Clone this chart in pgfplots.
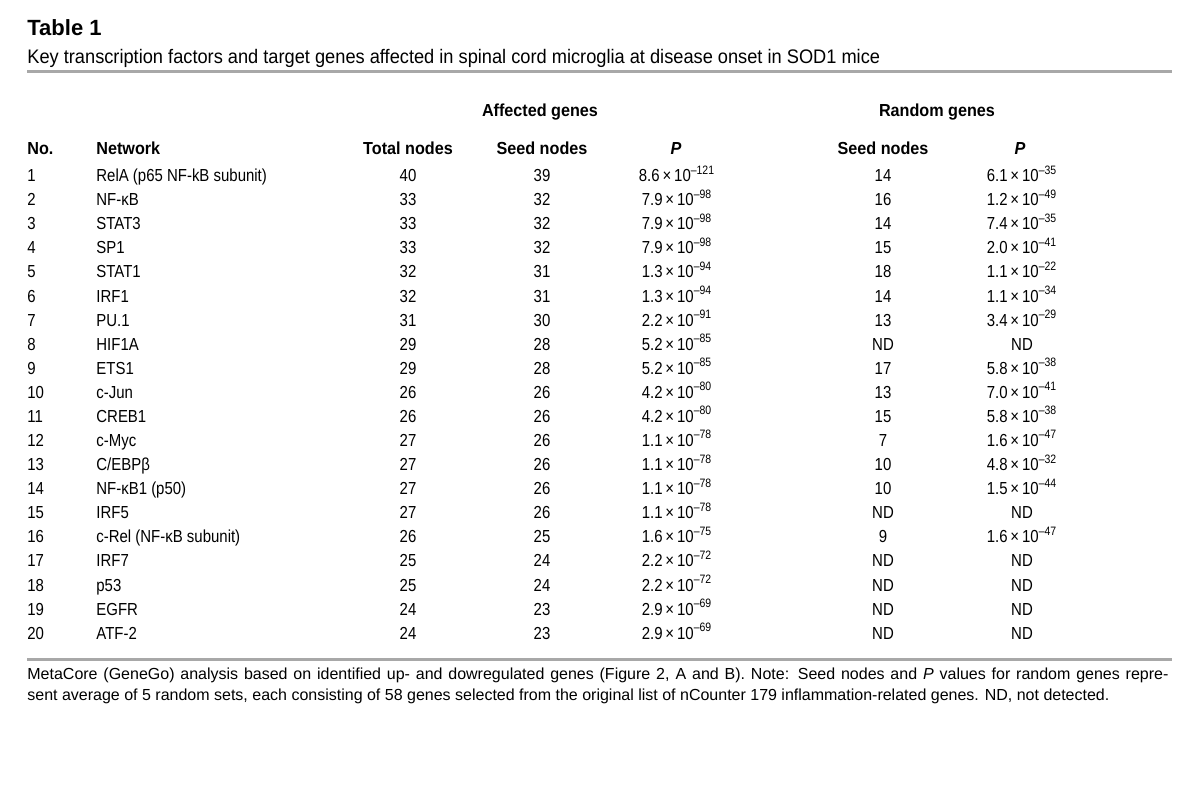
\documentclass[border=0pt]{standalone}
\usepackage{pgfplots}
\usepackage{pgfplotstable}
\pgfplotsset{compat=1.18}
\usepackage{fontspec}
\setmainfont{Liberation Sans}[FakeStretch=0.86]
\newfontfamily\hdrfont{Liberation Sans}[FakeStretch=0.93]
\newfontfamily\capfont{Liberation Sans}[FakeStretch=0.93]
\newfontfamily\plainfont{Liberation Sans}
\DeclareRobustCommand\pe[2]{#1\,×\,10\textsuperscript{–#2}}
\definecolor{rulegray}{HTML}{A8A8A8}
\tikzset{hdr/.style={inner sep=0pt, font=\fontsize{8.7}{10}\hdrfont\bfseries}}
\pgfplotstableread[col sep=semicolon]{
y;no;net;tot;seed;p;rs;rp
181.7;1;RelA (p65 NF-kB subunit);40;39;\pe{8.6}{121};14;\pe{6.1}{35}
205.8;2;NF-κB;33;32;\pe{7.9}{98};16;\pe{1.2}{49}
229.9;3;STAT3;33;32;\pe{7.9}{98};14;\pe{7.4}{35}
253.9;4;SP1;33;32;\pe{7.9}{98};15;\pe{2.0}{41}
278.0;5;STAT1;32;31;\pe{1.3}{94};18;\pe{1.1}{22}
302.1;6;IRF1;32;31;\pe{1.3}{94};14;\pe{1.1}{34}
326.2;7;PU.1;31;30;\pe{2.2}{91};13;\pe{3.4}{29}
350.3;8;HIF1A;29;28;\pe{5.2}{85};ND;ND
374.3;9;ETS1;29;28;\pe{5.2}{85};17;\pe{5.8}{38}
398.4;10;c-Jun;26;26;\pe{4.2}{80};13;\pe{7.0}{41}
422.5;11;CREB1;26;26;\pe{4.2}{80};15;\pe{5.8}{38}
446.6;12;c-Myc;27;26;\pe{1.1}{78};7;\pe{1.6}{47}
470.7;13;C/EBPβ;27;26;\pe{1.1}{78};10;\pe{4.8}{32}
494.7;14;NF-κB1 (p50);27;26;\pe{1.1}{78};10;\pe{1.5}{44}
518.8;15;IRF5;27;26;\pe{1.1}{78};ND;ND
542.9;16;c-Rel (NF-κB subunit);26;25;\pe{1.6}{75};9;\pe{1.6}{47}
567.0;17;IRF7;25;24;\pe{2.2}{72};ND;ND
591.1;18;p53;25;24;\pe{2.2}{72};ND;ND
615.1;19;EGFR;24;23;\pe{2.9}{69};ND;ND
639.2;20;ATF-2;24;23;\pe{2.9}{69};ND;ND
}\tbl
\begin{document}
\begin{tikzpicture}
\begin{axis}[
  width=600pt, height=395pt, scale only axis,
  xmin=0, xmax=1200, ymin=0, ymax=790, y dir=reverse,
  hide axis, clip=false,
  every node near coord/.append style={font=\fontsize{8.7}{10}\selectfont, inner sep=0pt, anchor=base, text=black},
]
\path (axis cs:0,0) rectangle (axis cs:1200,790);
% titles
\node[anchor=base west, inner sep=0pt, font=\fontsize{11}{12}\plainfont\bfseries] at (axis cs:27,36) {Table 1};
\node[anchor=base west, inner sep=0pt, font=\fontsize{9.8}{12}\capfont] at (axis cs:27,63.3) {Key transcription factors and target genes affected in spinal cord microglia at disease onset in SOD1 mice};
\draw[rulegray, line width=1.5pt] (axis cs:27,72) -- (axis cs:1172,72);
% group headers
\node[hdr, anchor=base] at (axis cs:540,117) {Affected genes};
\node[hdr, anchor=base] at (axis cs:937,117) {Random genes};
% column headers
\node[hdr, anchor=base west] at (axis cs:27,155) {No.};
\node[hdr, anchor=base west] at (axis cs:96,155) {Network};
\node[hdr, anchor=base] at (axis cs:408,155) {Total nodes};
\node[hdr, anchor=base] at (axis cs:542,155) {Seed nodes};
\node[hdr, anchor=base] at (axis cs:676,155) {\itshape P};
\node[hdr, anchor=base] at (axis cs:883,155) {Seed nodes};
\node[hdr, anchor=base] at (axis cs:1020,155) {\itshape P};
% table body
\addplot[only marks, mark=none, nodes near coords, point meta=explicit symbolic,
  every node near coord/.append style={anchor=base west}] table[x expr=27, y=y, meta=no] {\tbl};
\addplot[only marks, mark=none, nodes near coords, point meta=explicit symbolic,
  every node near coord/.append style={anchor=base west}] table[x expr=96, y=y, meta=net] {\tbl};
\addplot[only marks, mark=none, nodes near coords, point meta=explicit symbolic] table[x expr=408, y=y, meta=tot] {\tbl};
\addplot[only marks, mark=none, nodes near coords, point meta=explicit symbolic] table[x expr=542, y=y, meta=seed] {\tbl};
\addplot[only marks, mark=none, nodes near coords, point meta=explicit symbolic] table[x expr=677, y=y, meta=p] {\tbl};
\addplot[only marks, mark=none, nodes near coords, point meta=explicit symbolic] table[x expr=883, y=y, meta=rs] {\tbl};
\addplot[only marks, mark=none, nodes near coords, point meta=explicit symbolic] table[x expr=1022, y=y, meta=rp] {\tbl};
\draw[rulegray, line width=1.5pt] (axis cs:27,660) -- (axis cs:1172,660);
% footnote
\node[anchor=base west, inner sep=0pt, font=\fontsize{8}{10}\plainfont] at (axis cs:27,680) {\makebox[570.5pt][s]{MetaCore (GeneGo) analysis based on identified up- and dowregulated genes (Figure 2, A and B). Note: Seed nodes and \textit{P} values for random genes repre-}};
\node[anchor=base west, inner sep=0pt, font=\fontsize{8}{10}\plainfont] at (axis cs:27,700.7) {sent average of 5 random sets, each consisting of 58 genes selected from the original list of nCounter 179 inflammation-related genes. ND, not detected.};
\end{axis}
\end{tikzpicture}
\end{document}
